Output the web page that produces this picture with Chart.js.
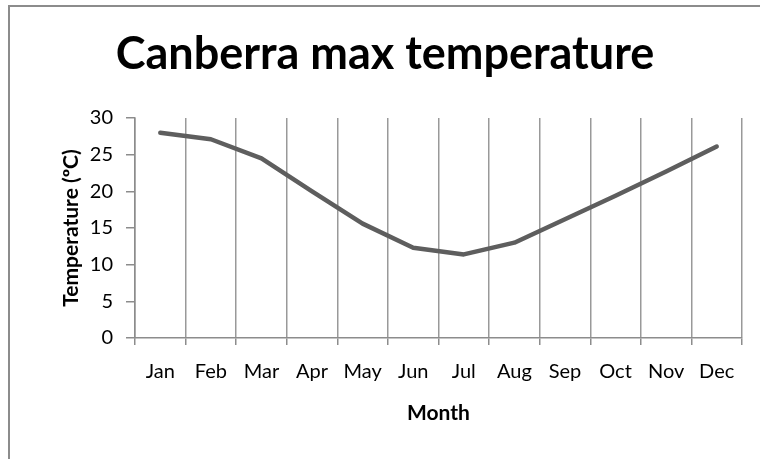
<!DOCTYPE html>
<html>
<head>
<meta charset="utf-8">
<script src="https://cdn.jsdelivr.net/npm/chart.js@4/dist/chart.umd.min.js"></script>
<style>
  body { margin: 0; background: #fff; }
  #wrap { position: relative; width: 760px; height: 459px; }
  #frame { position: absolute; left: 8px; top: 5px; right: 0; bottom: 0;
           border-left: 2px solid #8c8c8c; border-top: 2px solid #8c8c8c; pointer-events: none; }
  canvas { position: absolute; left: 0; top: 0; }
</style>
</head>
<body>
<div id="wrap">
  <canvas id="chart" width="760" height="459"></canvas>
  <div id="frame"></div>
</div>
<script>
// Monthly mean max temperature
const months = ['Jan', 'Feb', 'Mar', 'Apr', 'May', 'Jun', 'Jul', 'Aug', 'Sep', 'Oct', 'Nov', 'Dec'];
const maxTemp = [28.0, 27.1, 24.5, 20.0, 15.6, 12.3, 11.4, 13.0, 16.2, 19.4, 22.7, 26.1];
const yTicks = [0, 5, 10, 15, 20, 25, 30];

const fontFamily = 'Lato, "Open Sans", sans-serif';
const axisGray = '#8c8c8c';

const ctx = document.getElementById('chart').getContext('2d');
const chart = new Chart(ctx, {
    type: 'line',
    data: {
        labels: months,
        datasets: [{
            label: 'Max temperature',
            data: maxTemp,
            borderColor: '#5e5e5e',
            borderWidth: 4.5,
            borderCapStyle: 'round',
            borderJoinStyle: 'round',
            pointRadius: 0,
            tension: 0,
            fill: false
        }]
    },
    options: {
        responsive: false,
        animation: false,
        // left padding keeps the title centred the way the original is
        layout: { padding: { left: 28, right: 18, top: 0, bottom: 21 } },
        plugins: {
            legend: { display: false },
            tooltip: { enabled: false },
            title: {
                display: true,
                text: 'Canberra max temperature',
                color: '#000',
                font: { family: fontFamily, size: 45, weight: 'bold' },
                padding: { top: 27, bottom: 37 }
            }
        },
        scales: {
            x: {
                offset: true,
                afterFit: (scale) => { scale.height = 100; },
                grid: {
                    offset: true,
                    color: '#999999',
                    lineWidth: 1.5,
                    tickLength: 7,
                    tickColor: axisGray
                },
                border: { color: axisGray, width: 1.5 },
                ticks: {
                    color: '#000',
                    font: { family: fontFamily, size: 20 },
                    padding: 15,
                    maxRotation: 0,
                    autoSkip: false
                },
                title: {
                    display: true,
                    text: 'Month',
                    color: '#000',
                    font: { family: fontFamily, size: 21, weight: 'bold' },
                    padding: { top: 0, bottom: 12 }
                }
            },
            y: {
                min: yTicks[0],
                max: yTicks[yTicks.length - 1],
                afterFit: (scale) => { scale.width = 107; },
                afterBuildTicks: (scale) => { scale.ticks = yTicks.map(v => ({ value: v })); },
                ticks: {
                    color: '#000',
                    font: { family: fontFamily, size: 20 },
                    padding: 13
                },
                grid: {
                    drawOnChartArea: false,
                    tickLength: 9,
                    tickColor: axisGray,
                    lineWidth: 1.5
                },
                border: { color: axisGray, width: 1.5 },
                title: {
                    display: true,
                    text: 'Temperature (ºC)',
                    color: '#000',
                    font: { family: fontFamily, size: 21, weight: 'bold' },
                    padding: { top: 31, bottom: 0 }
                }
            }
        }
    }
});
</script>
</body>
</html>
